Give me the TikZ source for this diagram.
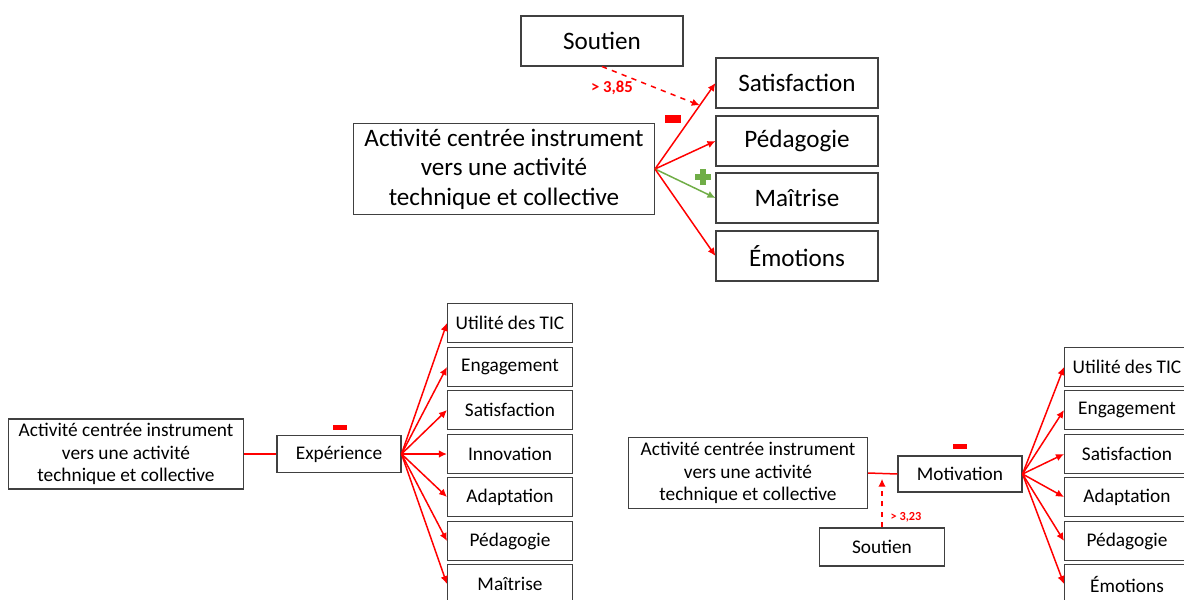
\documentclass[tikz,border=0pt]{standalone}
\usepackage{fontspec}
\setmainfont{Carlito}
\usetikzlibrary{arrows.meta,positioning}
\definecolor{posgreen}{RGB}{112,173,71}

\begin{document}
\begin{tikzpicture}[
  x=0.02cm, y=-0.02cm,
  box/.style={draw=black!75, line width=0.6pt, fill=white, inner sep=0pt, align=center},
  topbox/.style={box, font=\fontsize{14.3}{16.7}\selectfont, minimum width=3.24cm, minimum height=1.0cm},
  mainbox/.style={box, font=\fontsize{14.3}{16.7}\selectfont, minimum width=6.02cm, minimum height=1.82cm},
  lowmain/.style={box, font=\fontsize{11}{13}\selectfont, minimum width=4.7cm, minimum height=1.4cm},
  lowbox/.style={box, font=\fontsize{11}{13}\selectfont, minimum width=2.5cm, minimum height=0.78cm},
  arr/.style={-{Latex[length=1.6mm,width=1.5mm]}, red, line width=0.85pt},
  link/.style={red, line width=0.85pt},
  darr/.style={arr, dashed},
  val/.style={font=\fontsize{7}{8}\bfseries\selectfont, text=red},
  minus/.style={fill=red, inner sep=0pt, minimum width=0.3cm, minimum height=0.12cm},
  plusbar/.style={fill=posgreen, inner sep=0pt},
]
\useasboundingbox (0,0) rectangle (1184,599);

% ====== TOP DIAGRAM ======
\node[mainbox] (act) at (504,169) {Activité centrée instrument\\vers une activité\\technique et collective};
\node[topbox] (sout) at (602,41) {Soutien};
\node[topbox] (sat) at (797,83) {Satisfaction};
\node[topbox] (ped) at (797,141) {Pédagogie};
\node[topbox] (mai) at (797,198) {Maîtrise};
\node[topbox] (emo) at (797,256) {Émotions};

\draw[arr] (act.east) -- coordinate[pos=0.74] (modsat) (sat.west);
\draw[arr] (act.east) -- (ped.west);
\draw[arr, posgreen] (act.east) -- (mai.west);
\draw[arr] (act.east) -- (emo.west);

% moderation by Soutien
\draw[darr] (sout.south) -- (modsat);
\node[val, font=\fontsize{9.5}{11}\bfseries\selectfont] (v1) at (612,88) {> 3,85};

% signs
\node[minus, minimum width=0.32cm, minimum height=0.15cm] (m1) at (673,119) {};
\node[plusbar, minimum width=0.32cm, minimum height=0.12cm] (p1) at (703,177) {};
\node[plusbar, minimum width=0.12cm, minimum height=0.32cm] (p2) at (703,177) {};

% ====== BOTTOM LEFT ======
\node[lowmain] (act2) at (126,454) {Activité centrée instrument\\vers une activité\\technique et collective};
\node[lowbox, minimum width=2.48cm, minimum height=0.74cm] (exp) at (339,454) {Expérience};
\draw[link] (act2.east) -- (exp.west);
\node[minus, minimum width=0.28cm, minimum height=0.1cm] (m2) at (340,427) {};

\foreach \name/\txt/\yy in {u/Utilité des TIC/323, en/Engagement/367, s/Satisfaction/410, i/Innovation/454, a/Adaptation/497, p/Pédagogie/541, m/Maîtrise/584}{
  \node[lowbox] (l\name) at (510,\yy) {\txt};
  \draw[arr] (exp.east) -- (l\name.west);
}

% ====== BOTTOM RIGHT ======
\node[lowmain, minimum width=4.78cm, minimum height=1.42cm] (act3) at (748,473) {Activité centrée instrument\\vers une activité\\technique et collective};
\node[lowbox, minimum width=2.48cm, minimum height=0.72cm] (mot) at (960,474) {Motivation};
\node[lowbox, minimum height=0.76cm] (sout3) at (882,547) {Soutien};
\draw[link] (act3.east) -- coordinate[pos=0.47] (modmot) (mot.west);
\draw[darr, shorten >=3pt] (sout3.north) -- (sout3.north |- modmot);
\node[val] (v2) at (906,517) {> 3,23};
\node[minus, minimum width=0.28cm, minimum height=0.1cm] (m3) at (960,446) {};

\foreach \name/\txt/\yy in {u/Utilité des TIC/367, en/Engagement/410, s/Satisfaction/454, a/Adaptation/497, p/Pédagogie/541, e/Émotions/584}{
  \node[lowbox] (r\name) at (1127,\yy) {\txt};
  \draw[arr] (mot.east) -- (r\name.west);
}

\end{tikzpicture}
\end{document}
